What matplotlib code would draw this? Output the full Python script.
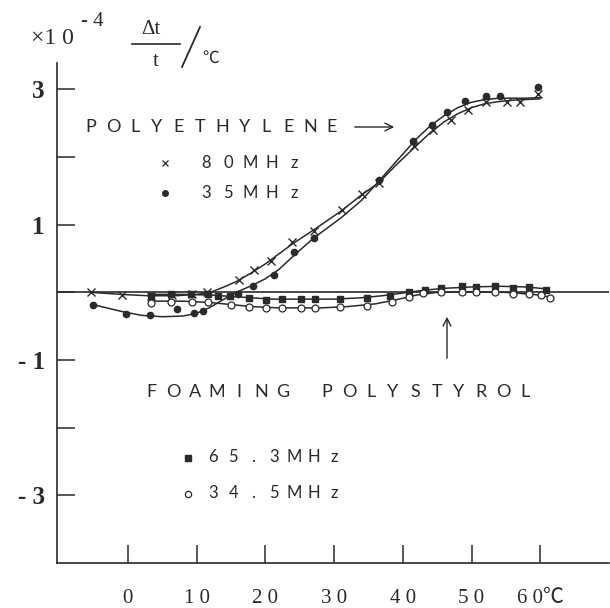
import matplotlib
matplotlib.use("Agg")
import matplotlib.pyplot as plt
from matplotlib.lines import Line2D

# temperature (deg C) and dt/t (x1e-4 per deg C)
# polyethylene 80 MHz (x)
pe80_T = [-5.3, -0.9, 3.4, 6.4, 9.4, 11.5, 16.2, 18.3, 20.8, 23.9, 27.1, 31.1,
          34.1, 36.5, 41.7, 44.4, 47.0, 49.5, 52.1, 55.1, 57.1, 59.7]
pe80_y = [0.0, -0.04, -0.06, -0.04, -0.03, 0.0, 0.18, 0.33, 0.47, 0.75, 0.90, 1.21,
          1.45, 1.61, 2.16, 2.40, 2.55, 2.69, 2.82, 2.82, 2.82, 2.93]
# polyethylene 35 MHz (dots)
pe35_T = [-5.1, -0.2, 3.3, 7.1, 9.7, 10.9, 16.0, 18.2, 21.2, 24.2, 27.1, 36.5,
          41.5, 44.3, 46.5, 49.0, 52.1, 54.2, 59.7]
pe35_y = [-0.18, -0.32, -0.34, -0.24, -0.31, -0.28, -0.02, 0.09, 0.25, 0.60, 0.80, 1.66,
          2.24, 2.48, 2.66, 2.83, 2.90, 2.90, 3.03]
# foaming polystyrol 65.3 MHz (squares)
ps65_T = [3.4, 6.3, 9.2, 11.7, 13.1, 14.8, 17.7, 20.1, 22.5, 25.2, 27.3, 30.9,
          34.8, 38.2, 40.9, 43.2, 45.5, 48.6, 50.6, 53.4, 56.0, 58.3, 60.9]
ps65_y = [-0.05, -0.03, -0.03, -0.02, -0.06, -0.06, -0.09, -0.11, -0.10, -0.10, -0.10, -0.10,
          -0.08, -0.05, 0.0, 0.03, 0.06, 0.09, 0.08, 0.10, 0.07, 0.08, 0.03]
# foaming polystyrol 34.5 MHz (open circles)
ps34_T = [3.4, 6.3, 9.3, 11.7, 15.0, 17.7, 20.1, 22.5, 25.2, 27.3, 30.9, 34.8,
          38.4, 40.9, 43.0, 45.5, 48.6, 50.6, 53.4, 56.0, 58.3, 60.1, 61.4]
ps34_y = [-0.16, -0.14, -0.14, -0.14, -0.19, -0.22, -0.23, -0.23, -0.23, -0.23, -0.22, -0.20,
          -0.14, -0.07, -0.01, 0.0, 0.01, 0.0, 0.01, -0.02, -0.02, -0.04, -0.08]

# hand drawn curves
pe80_curve_T = [-5.3, -1, 3, 7, 10, 12, 14, 16, 18, 20, 22, 24, 27, 31, 34, 36.5,
                39, 42, 44, 46, 48, 50, 52, 54, 56, 58, 60]
pe80_curve_y = [0.0, -0.03, -0.05, -0.05, -0.03, 0.0, 0.08, 0.17, 0.29, 0.42, 0.57, 0.72,
                0.92, 1.2, 1.44, 1.62, 1.88, 2.17, 2.36, 2.52, 2.64, 2.73, 2.79, 2.82,
                2.84, 2.85, 2.86]
pe35_curve_T = [-5.1, -1, 2, 5, 8, 10, 12, 14, 16, 18, 20, 22, 24, 27, 31, 34, 36.5,
                39, 42, 44, 46, 48, 50, 52, 54, 56, 58, 60]
pe35_curve_y = [-0.18, -0.28, -0.34, -0.36, -0.35, -0.31, -0.22, -0.1, 0.01, 0.1, 0.2,
                0.34, 0.53, 0.8, 1.1, 1.36, 1.64, 1.93, 2.27, 2.46, 2.61, 2.73, 2.81,
                2.85, 2.87, 2.87, 2.87, 2.88]
ps65_curve_T = [3, 8, 12, 15, 18, 21, 25, 30, 34, 37, 40, 43, 46, 50, 54, 58, 61]
ps65_curve_y = [-0.03, -0.03, -0.04, -0.06, -0.08, -0.10, -0.10, -0.10, -0.08, -0.05,
                -0.01, 0.03, 0.06, 0.08, 0.09, 0.08, 0.05]
ps34_curve_T = [3, 8, 12, 15, 18, 22, 28, 32, 36, 39, 42, 45, 50, 55, 59, 61.5]
ps34_curve_y = [-0.13, -0.13, -0.15, -0.18, -0.21, -0.23, -0.23, -0.21, -0.17, -0.11,
                -0.04, 0.0, 0.01, 0.0, -0.03, -0.07]

x_ticks = [0, 10, 20, 30, 40, 50, 60]
x_labels = ["0", "1 0", "2 0", "3 0", "4 0", "5 0", "6 0\u2103"]
y_ticks = [3, 2, 1, 0, -1, -2, -3]
y_labels = ["3", "", "1", "", "- 1", "", "- 3"]

INK = "#2a2a2a"
W, H = 610, 608
SANS = "Lato"


def px(x, y):
    # pixel position (top-left origin) to figure fraction
    return x / W, 1 - y / H


def spaced(fig, s, x0, y, pitch, size):
    # typewriter-like wide lettering, one character per cell
    for i, ch in enumerate(s):
        if ch == " ":
            continue
        fx, fy = px(x0 + i * pitch, y)
        fig.text(fx, fy, ch, ha="center", va="center", fontsize=size,
                 color=INK, family=SANS)


fig = plt.figure(figsize=(W / 100, H / 100), dpi=100)
ax = fig.add_axes([57 / W, 45 / H, (609 - 57) / W, (563 - 63) / H])

ax.set_xlim(-10.3, 70)
ax.set_ylim(-4, 3.39)
for side in ["top", "right"]:
    ax.spines[side].set_visible(False)
for side in ["left", "bottom"]:
    ax.spines[side].set_color(INK)
    ax.spines[side].set_linewidth(1.2)

ax.axhline(0, color=INK, lw=1.2)

ax.set_xticks(x_ticks, x_labels)
ax.set_yticks(y_ticks, y_labels)
ax.tick_params(axis="both", direction="in", length=13, width=1.1, color=INK)
ax.tick_params(axis="x", pad=19)
ax.tick_params(axis="y", pad=9)
for lab in ax.get_xticklabels():
    lab.set_family(["Liberation Serif", "Noto Sans CJK JP"])
    lab.set_fontsize(15)
    lab.set_color(INK)
for lab in ax.get_yticklabels():
    lab.set_family("Liberation Serif")
    lab.set_fontweight("bold")
    lab.set_fontsize(18)
    lab.set_color(INK)

# curves
for cT, cy in [(pe80_curve_T, pe80_curve_y), (pe35_curve_T, pe35_curve_y),
               (ps65_curve_T, ps65_curve_y), (ps34_curve_T, ps34_curve_y)]:
    ax.plot(cT, cy, color=INK, lw=1.1, solid_capstyle="round")

# measured points
ax.plot(pe80_T, pe80_y, ls="none", marker="x", ms=6, mew=1.0, color=INK)
ax.plot(pe35_T, pe35_y, ls="none", marker="o", ms=4.5, color=INK)
ax.plot(ps65_T, ps65_y, ls="none", marker="s", ms=5, color=INK)
ax.plot(ps34_T, ps34_y, ls="none", marker="o", ms=5, mfc="white", mew=0.9, color=INK)

# labels
spaced(fig, "POLYETHYLENE", 91, 127, 21.9, 13)
ax.annotate("", xy=px(397, 127), xytext=px(352, 127), xycoords="figure fraction",
            textcoords="figure fraction",
            arrowprops=dict(arrowstyle="->", color=INK, lw=1.0, mutation_scale=14))
spaced(fig, "80MHz", 206, 163, 22, 12)
spaced(fig, "35MHz", 206, 193, 22, 12)
ax.plot(*px(165, 163), marker="x", ms=4.5, mew=0.9, color=INK, transform=fig.transFigure)
ax.plot(*px(165, 193), marker="o", ms=4, color=INK, transform=fig.transFigure)

spaced(fig, "FOAMING POLYSTYROL", 151, 392, 22, 13)
ax.annotate("", xy=px(447, 314), xytext=px(447, 361), xycoords="figure fraction",
            textcoords="figure fraction",
            arrowprops=dict(arrowstyle="->", color=INK, lw=1.0, mutation_scale=14))
spaced(fig, "65.3MHz", 213, 457, 20.2, 12)
spaced(fig, "34.5MHz", 213, 493, 20.2, 12)
ax.plot(*px(188, 458), marker="s", ms=4, color=INK, transform=fig.transFigure)
ax.plot(*px(188, 494), marker="o", ms=4.5, mfc="white", mew=0.9, color=INK,
        transform=fig.transFigure)

# unit label in the top-left corner
serif = ["Liberation Serif", "DejaVu Sans"]
fig.text(*px(52, 38), "\u00d71 0", ha="center", va="center", fontsize=17,
         family=serif, color=INK)
fig.text(*px(92, 21), "- 4", ha="center", va="center", fontsize=15,
         family=serif, color=INK)
fig.text(*px(151, 29), "\u0394t", ha="center", va="center", fontsize=15,
         family=serif, color=INK)
fig.text(*px(156, 62), "t", ha="center", va="center", fontsize=15,
         family=serif, color=INK)
fig.add_artist(Line2D([132 / W, 180 / W], [1 - 44 / H, 1 - 44 / H], color=INK, lw=1.2,
                      transform=fig.transFigure))
fig.add_artist(Line2D([182 / W, 200 / W], [1 - 67 / H, 1 - 27 / H], color=INK, lw=1.3,
                      transform=fig.transFigure))
fig.text(*px(211, 58), "\u2103", ha="center", va="center", fontsize=12,
         family=["Noto Sans CJK JP", "DejaVu Sans"], color=INK)

fig.savefig("out.png", dpi=100, facecolor="white")
